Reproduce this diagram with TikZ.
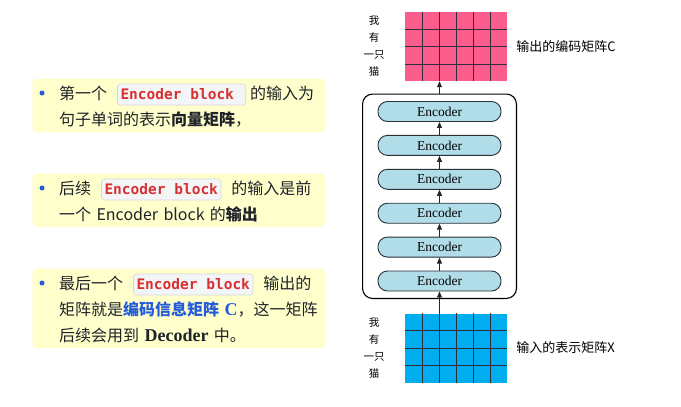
\documentclass[tikz,border=0pt]{standalone}
\usepackage{fontspec}
\setmainfont{Noto Sans CJK SC}
\newfontfamily\encfont{Liberation Serif}
\setmonofont{DejaVu Sans Mono}
\usetikzlibrary{arrows.meta, positioning, calc, fit, backgrounds}
\definecolor{notefill}{RGB}{255,255,204}
\definecolor{notetext}{RGB}{31,35,41}
\definecolor{notedot}{RGB}{36,91,219}
\definecolor{keyblue}{RGB}{36,91,219}
\definecolor{codered}{RGB}{214,48,49}
\definecolor{codebg}{RGB}{244,245,247}
\definecolor{codeline}{RGB}{212,214,220}
\definecolor{encfill}{RGB}{176,221,232}
\definecolor{encline}{RGB}{40,48,56}
\definecolor{outpink}{RGB}{250,92,140}
\definecolor{inblue}{RGB}{0,174,239}
\definecolor{gridgray}{RGB}{45,45,60}
\tikzset{
  notetxt/.style={
    anchor=north west, inner sep=0pt, text width=259pt, align=left,
    font=\fontsize{16}{26}\selectfont, text=notetext
  },
  notebox/.style={
    rectangle, rounded corners=5pt, draw=none, fill=notefill,
    inner xsep=7pt, inner ysep=5pt
  },
  bulletdot/.style={circle, fill=notedot, minimum size=5pt, inner sep=0pt},
  chip/.style={
    rectangle, rounded corners=3pt, draw=codeline, fill=codebg, line width=0.6pt,
    inner xsep=3pt, inner ysep=4pt, text height=11.5pt, text depth=1.5pt,
    font=\ttfamily\bfseries\fontsize{14.5}{16}\selectfont, text=codered
  },
  encoder/.style={
    rectangle, rounded corners=9.5pt, draw=encline, line width=0.9pt,
    fill=encfill, minimum width=123pt, minimum height=20pt, inner sep=0pt,
    font=\encfont\fontsize{13.5}{15}\selectfont
  },
  stackbox/.style={
    rectangle, rounded corners=10pt, draw=black, line width=1.1pt,
    inner xsep=15pt, inner ysep=7pt
  },
  matbox/.style={minimum width=102pt, minimum height=69pt, inner sep=0pt, draw=none},
  gridl/.style={draw=gridgray, line width=0.7pt},
  wordcol/.style={inner sep=0pt, align=center, font=\fontsize{10.5}{17}\selectfont},
  matlabel/.style={inner sep=0pt, font=\fontsize{13}{15}\selectfont},
  flow/.style={-{Triangle[length=6pt,width=5pt]}, line width=0.9pt, draw=black!85}
}
\newcommand{\codechip}[1]{\tikz[baseline=(chip.base)]\node[chip] (chip) {#1};}

\begin{document}
\begin{tikzpicture}[x=1pt, y=-1pt]
\useasboundingbox (0,0) rectangle (681,407);

% Notes on the left
\node[bulletdot] (dot1) at (42,93) {};
\node[notetxt] (note1) at (59,83.5) {第一个\hspace{10pt}\codechip{Encoder block\ }\hspace{4pt}的输入为\\句子单词的表示\textbf{向量矩阵}，};
\node[bulletdot] (dot2) at (42,188) {};
\node[notetxt] (note2) at (59,178.5) {后续\hspace{10pt}\codechip{Encoder block}\hspace{10pt}的输入是前\\一个 Encoder block 的\textbf{输出}};
\node[bulletdot] (dot3) at (42,283) {};
\node[notetxt] (note3) at (59,273.5) {最后一个\hspace{10pt}\codechip{Encoder block}\hspace{10pt}输出的\\矩阵就是\textcolor{keyblue}{\bfseries 编码信息矩阵 {\encfont\fontsize{18}{26}\selectfont C}}，这一矩阵\\后续会用到 {\encfont\bfseries\fontsize{18}{26}\selectfont Decoder} 中。};

\begin{scope}[on background layer]
\fill[white] (0,0) rectangle (681,407);
\node[notebox, fit=(dot1)(note1)] (box1) {};
\node[notebox, fit=(dot2)(note2)] (box2) {};
\node[notebox, fit=(dot3)(note3)] (box3) {};
\end{scope}

% Encoder stack
\node[encoder] (enc1) at (439.5,281) {Encoder};
\node[encoder, above=13pt of enc1] (enc2) {Encoder};
\node[encoder, above=13pt of enc2] (enc3) {Encoder};
\node[encoder, above=13pt of enc3] (enc4) {Encoder};
\node[encoder, above=13pt of enc4] (enc5) {Encoder};
\node[encoder, above=13pt of enc5] (enc6) {Encoder};
\node[stackbox, fit=(enc1)(enc6)] (stack) {};

% Matrices
\node[matbox, fill=outpink] (outmat) at (456,46.5) {};
\node[matbox, fill=inblue] (inmat) at (456,348) {};
\foreach \m in {outmat, inmat} {
  \foreach \k in {1,...,5}
    \draw[gridl] ($(\m.north west)!\k/6!(\m.north east)$) -- ($(\m.south west)!\k/6!(\m.south east)$);
  \foreach \k in {1,2,3}
    \draw[gridl] ($(\m.north west)!\k/4!(\m.south west)$) -- ($(\m.north east)!\k/4!(\m.south east)$);
}

\node[wordcol, left=20pt of outmat] (outwords) {我\\有\\一只\\猫};
\node[wordcol, left=20pt of inmat] (inwords) {我\\有\\一只\\猫};
\node[matlabel, right=9pt of outmat] (outlabel) {输出的编码矩阵C};
\node[matlabel, right=9pt of inmat] (inlabel) {输入的表示矩阵X};

% Arrows
\foreach \a/\b in {enc1/enc2, enc2/enc3, enc3/enc4, enc4/enc5, enc5/enc6}
  \draw[flow] (\a.north) -- (\b.south);
\draw[flow] (stack.north) -- (stack.north |- outmat.south);
\draw[flow] (inmat.north -| enc1.south) -- (enc1.south);

\end{tikzpicture}
\end{document}
